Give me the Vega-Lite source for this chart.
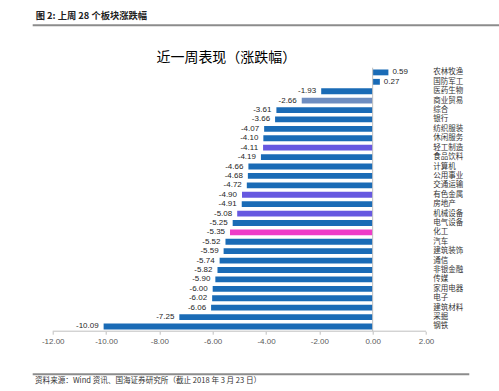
{
  "$schema": "https://vega.github.io/schema/vega-lite/v6.json",
  "background": "white",
  "padding": {"left": 31.7, "top": 11.7, "right": 0, "bottom": 0},
  "spacing": 42,
  "bounds": "flush",
  "config": {
    "view": {"stroke": null},
    "font": "Liberation Sans",
    "locale": {"number": {"decimal": ".", "thousands": ",", "grouping": [3], "currency": ["", ""], "minus": "-"}}
  },
  "vconcat": [
    {
      "width": 467.3,
      "height": 1,
      "title": {"text": "图 2: 上周 28 个板块涨跌幅", "anchor": "start", "dx": 4, "offset": 2.5, "fontSize": 9.3, "fontWeight": "bold", "font": "Noto Sans CJK SC", "color": "#222222"},
      "data": {"values": [{"a": 0, "b": 1}]},
      "mark": {"type": "rule", "color": "#8c8c8c", "strokeWidth": 2},
      "encoding": {
        "x": {"field": "a", "type": "quantitative", "scale": {"domain": [0, 1]}, "axis": null},
        "x2": {"field": "b"}
      }
    },
    {
      "width": 393.3,
      "height": 263.5,
      "title": {"text": "近一周表现（涨跌幅）", "anchor": "middle", "dx": -3, "offset": 2, "fontSize": 14, "fontWeight": "normal", "font": "Noto Sans CJK SC", "color": "#000000"},
      "data": {"values": [
        {"name": "农林牧渔", "value": 0.59, "c": "a"},
        {"name": "国防军工", "value": 0.27, "c": "a"},
        {"name": "医药生物", "value": -1.93, "c": "a"},
        {"name": "商业贸易", "value": -2.66, "c": "b"},
        {"name": "综合", "value": -3.61, "c": "a"},
        {"name": "银行", "value": -3.66, "c": "a"},
        {"name": "纺织服装", "value": -4.07, "c": "a"},
        {"name": "休闲服务", "value": -4.10, "c": "a"},
        {"name": "轻工制造", "value": -4.11, "c": "p"},
        {"name": "食品饮料", "value": -4.19, "c": "a"},
        {"name": "计算机", "value": -4.66, "c": "a"},
        {"name": "公用事业", "value": -4.68, "c": "a"},
        {"name": "交通运输", "value": -4.72, "c": "a"},
        {"name": "有色金属", "value": -4.90, "c": "p"},
        {"name": "房地产", "value": -4.91, "c": "a"},
        {"name": "机械设备", "value": -5.08, "c": "p"},
        {"name": "电气设备", "value": -5.25, "c": "a"},
        {"name": "化工", "value": -5.35, "c": "m"},
        {"name": "汽车", "value": -5.52, "c": "a"},
        {"name": "建筑装饰", "value": -5.59, "c": "a"},
        {"name": "通信", "value": -5.74, "c": "a"},
        {"name": "非银金融", "value": -5.82, "c": "a"},
        {"name": "传媒", "value": -5.90, "c": "a"},
        {"name": "家用电器", "value": -6.00, "c": "a"},
        {"name": "电子", "value": -6.02, "c": "a"},
        {"name": "建筑材料", "value": -6.06, "c": "a"},
        {"name": "采掘", "value": -7.25, "c": "a"},
        {"name": "钢铁", "value": -10.09, "c": "a"}
      ]},
      "layer": [
        {
          "mark": {"type": "bar"},
          "encoding": {
            "y": {"field": "name", "type": "nominal", "sort": null,
              "scale": {"paddingInner": 0.38, "paddingOuter": 0.19},
              "axis": {"orient": "right", "title": null, "domain": false, "ticks": false, "labelPadding": 6.7, "labelFontSize": 7.5, "labelFont": "Noto Sans CJK SC", "labelColor": "#333333"}},
            "x": {"field": "value", "type": "quantitative",
              "scale": {"domain": [-12.75, 2], "nice": false, "zero": false},
              "axis": {"values": [-12, -10, -8, -6, -4, -2, 0, 2], "format": ".2f", "domain": false, "grid": false, "tickSize": 3, "tickColor": "#bfbfbf", "labelFontSize": 8, "labelColor": "#595959", "labelPadding": 3, "labelFlush": false, "title": null}},
            "color": {"field": "c", "type": "nominal",
              "scale": {"domain": ["a", "b", "p", "m"], "range": ["#1a6bb6", "#6e8dc0", "#6658e0", "#ee3cc8"]},
              "legend": null}
          }
        },
        {
          "data": {"values": [{}]},
          "mark": {"type": "rule", "color": "#bfbfbf", "strokeWidth": 1},
          "encoding": {"x": {"datum": -12}, "x2": {"datum": 2}, "y": {"value": "height"}}
        },
        {
          "data": {"values": [{}]},
          "mark": {"type": "rule", "color": "#bfbfbf", "strokeWidth": 1},
          "encoding": {"x": {"datum": 0}}
        },
        {
          "transform": [{"filter": "datum.value < 0"}],
          "mark": {"type": "text", "align": "right", "baseline": "middle", "dx": -5, "fontSize": 8, "color": "#262626"},
          "encoding": {
            "y": {"field": "name", "type": "nominal", "sort": null},
            "x": {"field": "value", "type": "quantitative"},
            "text": {"field": "value", "type": "quantitative", "format": ".2f"}
          }
        },
        {
          "transform": [{"filter": "datum.value >= 0"}],
          "mark": {"type": "text", "align": "left", "baseline": "middle", "dx": 4, "fontSize": 8, "color": "#262626"},
          "encoding": {
            "y": {"field": "name", "type": "nominal", "sort": null},
            "x": {"field": "value", "type": "quantitative"},
            "text": {"field": "value", "type": "quantitative", "format": ".2f"}
          }
        }
      ]
    },
    {
      "width": 436.6,
      "height": 1,
      "title": {"text": "资料来源：Wind 资讯、国海证券研究所（截止 2018 年 3 月 23 日）", "orient": "bottom", "anchor": "start", "dx": 3.3, "offset": 1.5, "fontSize": 7.6, "fontWeight": "normal", "font": "Noto Sans CJK SC", "color": "#333333"},
      "data": {"values": [{"a": 0, "b": 1}]},
      "mark": {"type": "rule", "color": "#8c8c8c", "strokeWidth": 2},
      "encoding": {
        "x": {"field": "a", "type": "quantitative", "scale": {"domain": [0, 1]}, "axis": null},
        "x2": {"field": "b"}
      }
    }
  ]
}
